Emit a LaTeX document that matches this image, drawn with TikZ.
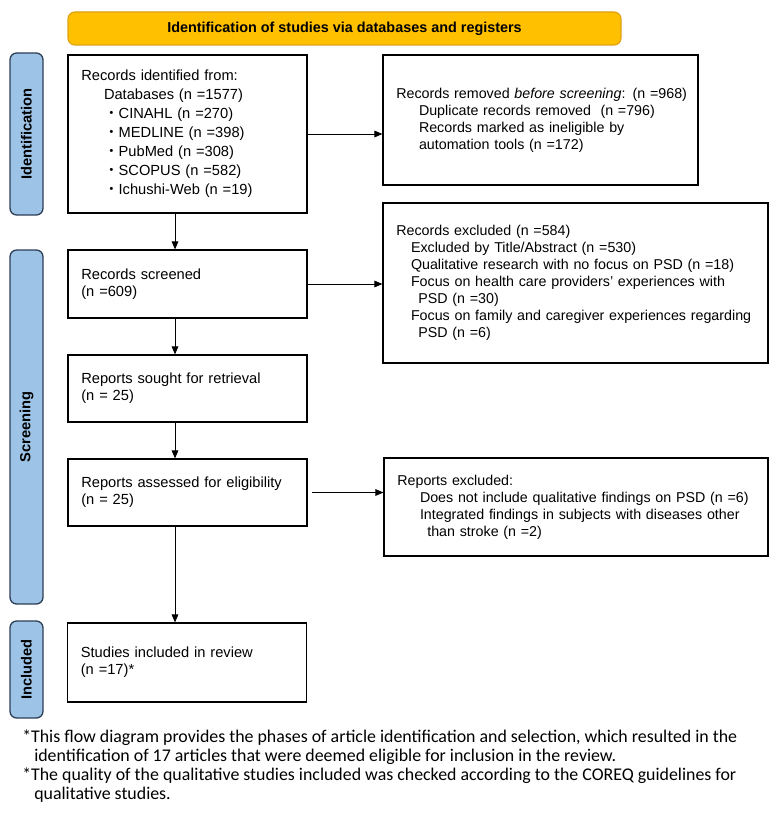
\documentclass[tikz,border=0pt]{standalone}
\usepackage{fontspec}
\setmainfont{Liberation Sans}
\newfontfamily\notefont{Carlito}
\newfontfamily\cjk{Noto Sans CJK JP}
\usetikzlibrary{arrows.meta}
\definecolor{phaseblue}{RGB}{157,195,230}
\definecolor{phaseedge}{RGB}{45,62,85}
\definecolor{headyellow}{RGB}{255,192,0}
\definecolor{headedge}{RGB}{222,160,20}
\newcommand{\dotitem}{{\cjk ・}}
\tikzset{
  box/.style={draw, line width=0.9pt, inner xsep=3pt, inner ysep=0pt, align=left,
    execute at begin node={\leftskip=7pt\hyphenpenalty=10000},
    font=\fontsize{11}{12.75}\selectfont},
  sidebox/.style={box, font=\fontsize{10.7}{12.75}\selectfont},
  phase/.style={draw=phaseedge, fill=phaseblue, line width=1pt, rounded corners=5pt,
    rotate=90, minimum height=24.75pt, inner sep=0pt, font=\fontsize{11}{13}\selectfont\bfseries},
  flow/.style={-{Triangle[length=6pt,width=5pt]}, line width=0.6pt}
}
\begin{document}
\begin{tikzpicture}[x=0.75pt,y=-0.75pt]
\useasboundingbox (0,0) rectangle (781,813);
% heading
\node[draw=headedge, fill=headyellow, line width=0.8pt, rounded corners=5pt,
  minimum width=414.75pt, minimum height=24.75pt, inner sep=0pt,
  font=\fontsize{10.8}{12}\selectfont\bfseries] (head) at (344.5,28.5)
  {Identification of studies via databases and registers};
% phases
\node[phase, minimum width=121.5pt] (pid) at (26.5,134) {Identification};
\node[phase, minimum width=265.5pt] (pscr) at (26.5,427) {Screening};
\node[phase, minimum width=72.75pt] (pinc) at (26.5,669.5) {Included};
% left column
\node[box, text width=173.25pt, minimum height=118.5pt,
  font=\fontsize{11}{14.25}\selectfont] (ident) at (187.5,134)
  {Records identified from:\\
   \hspace*{17pt}Databases (n =1577)\\
   \hspace*{17pt}\dotitem CINAHL (n =270)\\
   \hspace*{17pt}\dotitem MEDLINE (n =398)\\
   \hspace*{17pt}\dotitem PubMed (n =308)\\
   \hspace*{17pt}\dotitem SCOPUS (n =582)\\
   \hspace*{17pt}\dotitem Ichushi-Web (n =19)};
\node[box, text width=173.25pt, minimum height=51pt] (screened) at (187.5,284)
  {Records screened\\(n =609)};
\node[box, text width=173.25pt, minimum height=50.25pt] (sought) at (187.5,388.5)
  {Reports sought for retrieval\\(n = 25)};
\node[box, text width=173.25pt, minimum height=50.25pt] (assessed) at (187.5,492.5)
  {Reports assessed for eligibility\\(n = 25)};
\node[box, text width=173.25pt, minimum height=59.25pt] (studies) at (187,662.5)
  {Studies included in review\\(n =17)*};
% right column
\node[sidebox, text width=230.25pt, minimum height=97.5pt] (removed) at (540.5,120)
  {\mbox{Records removed \textit{before screening}: (n =968)}\\
   \hspace*{17pt}Duplicate records removed\ \ (n =796)\\
   \hspace*{17pt}Records marked as ineligible by\\
   \hspace*{17pt}automation tools (n =172)};
\node[sidebox, text width=282.75pt, minimum height=120pt] (excluded) at (575.5,283)
  {Records excluded (n =584)\\
   \hspace*{11pt}Excluded by Title/Abstract (n =530)\\
   \hspace*{11pt}Qualitative research with no focus on PSD (n =18)\\
   \hspace*{11pt}Focus on health care providers' experiences with\\
   \hspace*{16.5pt}PSD (n =30)\\
   \hspace*{11pt}Focus on family and caregiver experiences regarding\\
   \hspace*{16.5pt}PSD (n =6)};
\node[sidebox, text width=282pt, minimum height=73.5pt] (repexcl) at (576,507)
  {Reports excluded:\\
   \hspace*{17pt}Does not include qualitative findings on PSD (n =6)\\
   \hspace*{17pt}Integrated findings in subjects with diseases other\\
   \hspace*{22.5pt}than stroke (n =2)};
% connectors
\coordinate (ax) at (175,0);
\draw[flow] (ident.south -| ax) -- (screened.north -| ax);
\draw[flow] (screened.south -| ax) -- (sought.north -| ax);
\draw[flow] (sought.south -| ax) -- (assessed.north -| ax);
\draw[flow] (assessed.south -| ax) -- (studies.north -| ax);
\draw[flow] (ident.east) -- (ident.east -| removed.west);
\draw[flow] (screened.east) -- (screened.east -| excluded.west);
\draw[flow, shorten <=3pt] (assessed.east) -- (assessed.east -| repexcl.west);
% note
\node[anchor=north west, inner sep=0pt, align=left,
  font=\notefont\fontsize{13.4}{14.25}\selectfont] (note) at (22,730)
  {*This flow diagram provides the phases of article identification and selection, which resulted in the\\
   \hspace*{9pt}identification of 17 articles that were deemed eligible for inclusion in the review.\\
   *The quality of the qualitative studies included was checked according to the COREQ guidelines for\\
   \hspace*{9pt}qualitative studies.};
\end{tikzpicture}
\end{document}
